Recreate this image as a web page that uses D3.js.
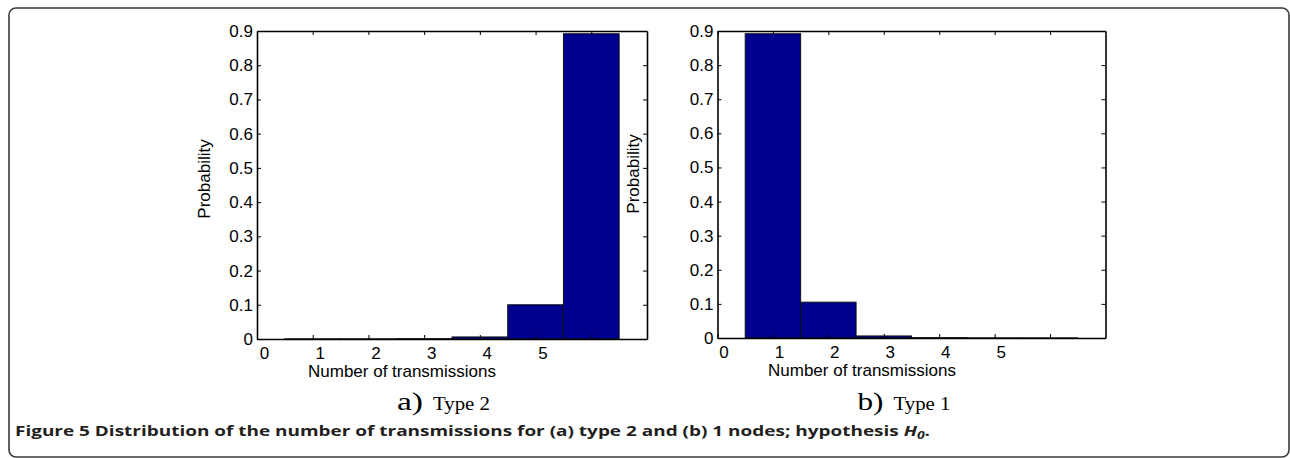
<!DOCTYPE html>
<html>
<head>
<meta charset="utf-8">
<script src="https://cdn.jsdelivr.net/npm/d3@7"></script>
<style>
  body { margin: 0; background: #fff; }
</style>
</head>
<body>
<svg width="1290" height="458"></svg>
<script>
// bins (number of transmissions) and probabilities
var bins = [1, 2, 3, 4, 5, 6];
var probType2 = [0.0005, 0.0005, 0.001, 0.006, 0.1, 0.892];
var probType1 = [0.892, 0.105, 0.006, 0.001, 0.0005, 0.0003];
var xTicks = [0, 1, 2, 3, 4, 5, 6];
var xTickLabels = ["0", "1", "2", "3", "4", "5", ""];
var yTicks = [0, 0.1, 0.2, 0.3, 0.4, 0.5, 0.6, 0.7, 0.8, 0.9];

var sans = "'Liberation Sans', Arial, sans-serif",
    serif = "'Liberation Serif', 'Times New Roman', serif";

var svg = d3.select("svg");

// rounded frame around the figure
svg.append("rect")
    .attr("x", 9).attr("y", 8)
    .attr("width", 1280).attr("height", 449)
    .attr("rx", 7)
    .attr("fill", "none")
    .attr("stroke", "#3a3a3a")
    .attr("stroke-width", 1.6);

function panel(opt) {
  var x = d3.scaleLinear().domain([0, 7]).range([opt.left, opt.right]),
      y = d3.scaleLinear().domain([0, 0.9]).range([opt.bottom, opt.top]);

  var g = svg.append("g");
  var rows = bins.map(function(b, i) { return {b: b, p: opt.values[i]}; });

  g.selectAll("rect.bar")
    .data(rows)
    .enter().append("rect")
      .attr("class", "bar")
      .attr("x", function(d) { return x(d.b - 0.5); })
      .attr("width", function(d) { return x(d.b + 0.5) - x(d.b - 0.5); })
      .attr("y", function(d) { return y(d.p); })
      .attr("height", function(d) { return y(0) - y(d.p); })
      .attr("fill", "#00008f")
      .attr("stroke", "#111")
      .attr("stroke-width", 1);

  function style(sel) {
    sel.select(".domain").attr("stroke", "#000").attr("stroke-width", 1.6);
    sel.selectAll(".tick line").attr("stroke", "#000").attr("stroke-width", 1);
    sel.selectAll("text").attr("font-size", 17).attr("fill", "#000")
       .attr("font-family", sans);
  }

  g.append("g")
      .attr("transform", "translate(0," + opt.bottom + ")")
      .call(d3.axisBottom(x).tickValues(xTicks).tickSizeInner(-4).tickSizeOuter(0).tickPadding(8)
        .tickFormat(function(d, i) { return xTickLabels[i]; }))
      .call(style)
      .selectAll("text").attr("dx", opt.labelShift);

  g.append("g")
      .attr("transform", "translate(0," + opt.top + ")")
      .call(d3.axisTop(x).tickValues(xTicks).tickSizeInner(-4).tickSizeOuter(0).tickFormat(""))
      .call(style);

  g.append("g")
      .attr("transform", "translate(" + opt.left + ",0)")
      .call(d3.axisLeft(y).tickValues(yTicks).tickSizeInner(-4).tickSizeOuter(0).tickPadding(4)
        .tickFormat(function(d) { return d === 0 ? "0" : d3.format(".1f")(d); }))
      .call(style);

  g.append("g")
      .attr("transform", "translate(" + opt.right + ",0)")
      .call(d3.axisRight(y).tickValues(yTicks).tickSizeInner(-4).tickSizeOuter(0).tickFormat(""))
      .call(style);

  // axis titles
  g.append("text")
      .attr("transform", "translate(" + opt.yLabelX + "," + opt.yLabelY + ") rotate(-90)")
      .attr("text-anchor", "middle")
      .attr("font-family", sans)
      .attr("font-size", 17)
      .text("Probability");

  g.append("text")
      .attr("x", opt.xLabelX).attr("y", opt.bottom + 38)
      .attr("text-anchor", "middle")
      .attr("font-family", sans)
      .attr("font-size", 17)
      .text("Number of transmissions");

  // panel tag, e.g. "a) Type 2"
  g.append("text")
      .attr("x", opt.left + 140).attr("y", 410)
      .attr("font-family", serif)
      .attr("font-size", 25)
      .attr("textLength", 26).attr("lengthAdjust", "spacingAndGlyphs")
      .text(opt.tag);

  g.append("text")
      .attr("x", opt.left + 176).attr("y", 410)
      .attr("font-family", serif)
      .attr("font-size", 18)
      .attr("textLength", 57).attr("lengthAdjust", "spacingAndGlyphs")
      .text(opt.type);
}

panel({left: 257, right: 647, top: 31, bottom: 339, values: probType2, labelShift: 7,
       yLabelX: 210, yLabelY: 179, xLabelX: 402, tag: "a)", type: "Type 2"});
panel({left: 717.5, right: 1105.5, top: 31, bottom: 338, values: probType1, labelShift: 6,
       yLabelX: 639, yLabelY: 174, xLabelX: 862, tag: "b)", type: "Type 1"});

// caption
var cap = svg.append("text")
    .attr("x", 15).attr("y", 436)
    .attr("font-family", "'Open Sans', 'Noto Sans', sans-serif")
    .attr("font-size", 15)
    .attr("font-weight", "bold")
    .attr("fill", "#231f20")
    .attr("textLength", 915).attr("lengthAdjust", "spacingAndGlyphs");
cap.append("tspan").text("Figure 5 Distribution of the number of transmissions for (a) type 2 and (b) 1 nodes; hypothesis ");
cap.append("tspan").attr("font-style", "italic").text("H");
cap.append("tspan").attr("font-style", "italic").attr("font-size", 11).attr("dy", 3).text("0");
cap.append("tspan").attr("dy", -3).text(".");
</script>
</body>
</html>
